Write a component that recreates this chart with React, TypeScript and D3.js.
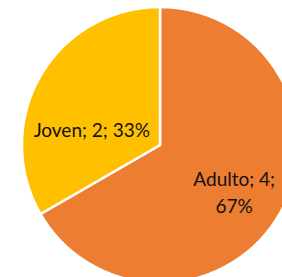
import React, { useEffect, useRef } from 'react';
import * as d3 from 'd3';

const categories = ['Adulto', 'Joven'];
const values = [4, 2];
const colors = ['#ED7D31', '#FFC000'];

const width = 282;
const height = 277;

const App = () => {
  const ref = useRef<SVGSVGElement>(null);

  useEffect(() => {
    const svg = d3.select(ref.current);
    svg.selectAll('*').remove();

    const cx = 160, cy = 145, radius = 138;
    const total = d3.sum(values);
    const data = categories.map((c, i) => ({ name: c, value: values[i], color: colors[i] }));

    const pie = d3.pie<any>().sort(null).value(d => d.value);
    const arcs = pie(data);

    const arc = d3.arc<any>().innerRadius(0).outerRadius(radius);
    const labelArc = d3.arc<any>().innerRadius(88).outerRadius(88);

    const g = svg.append('g').attr('transform', `translate(${cx},${cy})`);

    g.selectAll('path')
      .data(arcs)
      .enter().append('path')
      .attr('d', arc)
      .attr('fill', d => d.data.color)
      .attr('stroke', 'white')
      .attr('stroke-width', 2.5)
      .attr('stroke-linejoin', 'miter');

    // excel nudges labels so they fit in the slice
    const nudge = [[-2, 4], [8, 29]];

    const labels = g.selectAll('text.lbl')
      .data(arcs)
      .enter().append('text')
      .attr('class', 'lbl')
      .attr('transform', (d, i) => {
        const [x, y] = labelArc.centroid(d);
        return `translate(${x + nudge[i][0]},${y + nudge[i][1]})`;
      })
      .attr('text-anchor', 'middle')
      .attr('font-family', 'Lato, "Open Sans", sans-serif')
      .attr('font-size', 19)
      .attr('fill', '#111');

    labels.each(function (d: any, i) {
      const pct = Math.round((d.data.value / total) * 100) + '%';
      const t = d3.select(this);
      if (i === 0) {
        t.append('tspan').attr('x', 0).attr('y', -13.5).attr('dy', '0.35em').text(`${d.data.name}; ${d.data.value};`);
        t.append('tspan').attr('x', 0).attr('y', 13.5).attr('dy', '0.35em').text(pct);
      } else {
        t.append('tspan').attr('x', 0).attr('y', 0).attr('dy', '0.35em').text(`${d.data.name}; ${d.data.value}; ${pct}`);
      }
    });
  }, []);

  return (
    <svg
      ref={ref}
      width={width}
      height={height}
      style={{ position: 'absolute', left: 0, top: 0, background: 'white' }}
    />
  );
};

export default App;
